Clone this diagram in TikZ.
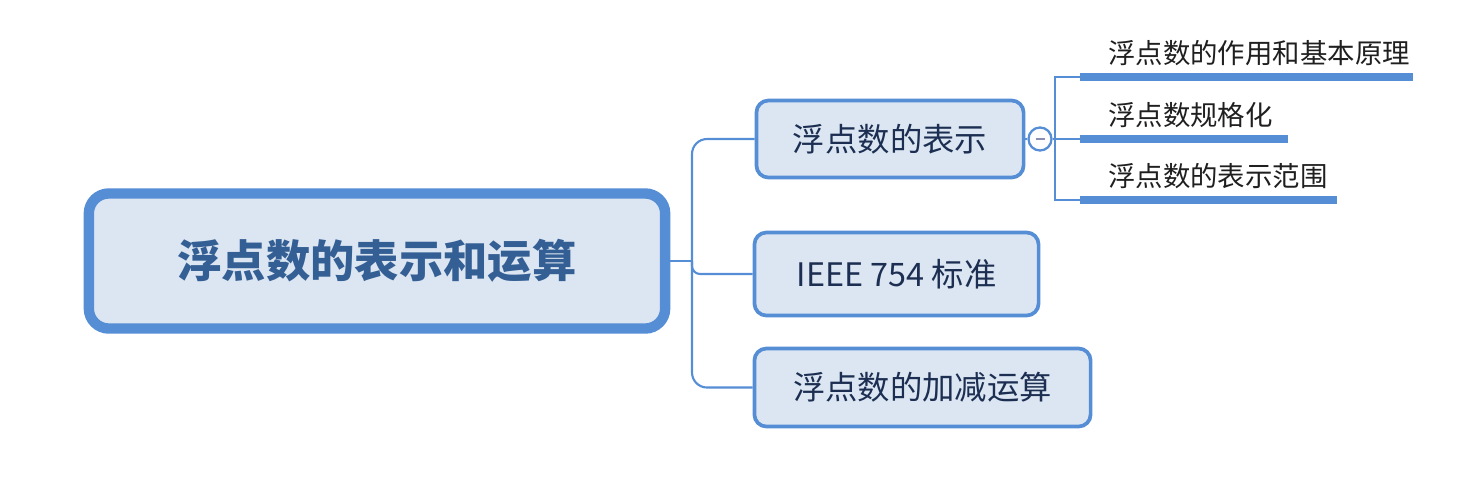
\documentclass[tikz,border=0pt]{standalone}
\usepackage{fontspec}
\setmainfont{Noto Sans CJK SC}
\definecolor{mapblue}{HTML}{558ED5}
\definecolor{mapfill}{HTML}{DCE6F2}
\definecolor{roottext}{HTML}{345F94}
\definecolor{topictext}{HTML}{1C2F52}
\definecolor{minusgray}{HTML}{8C90B0}
\begin{document}
\begin{tikzpicture}[x=0.01cm, y=-0.01cm]
				\tikzstyle{every node}=[align=center, inner sep=1pt]
				\tikzstyle{rootbox}=[draw=mapblue, fill=mapfill, line width=2.95pt, rounded corners=0.2cm, minimum width=5.76cm, minimum height=1.35cm, text=roottext, font=\fontsize{12.6}{15}\selectfont\bfseries]
				\tikzstyle{topicbox}=[draw=mapblue, fill=mapfill, line width=1.05pt, rounded corners=0.12cm, text=topictext, font=\fontsize{9.2}{11}\selectfont]
				\tikzstyle{subtopic}=[anchor=west, text=black!88, font=\fontsize{7.8}{9}\selectfont]
				\tikzstyle{collapse}=[circle, draw=mapblue, fill=white, line width=0.65pt, minimum size=0.23cm, inner sep=0pt, path picture={\draw[minusgray, line width=0.7pt] ([xshift=-0.045cm]path picture bounding box.center) -- ([xshift=0.045cm]path picture bounding box.center);}]
				\tikzstyle{branch}=[draw=mapblue, line width=0.6pt]
				\tikzstyle{subline}=[draw=mapblue, line width=2pt]
				\useasboundingbox (0, 0) rectangle (1474, 487);
				\node[rootbox] (R) at (377, 261) {浮点数的表示和运算};
				\node[topicbox, minimum width=2.67cm, minimum height=0.77cm] (T1) at (890, 139) {浮点数的表示};
				\node[topicbox, minimum width=2.84cm, minimum height=0.83cm] (T2) at (896.5, 274) {IEEE 754 标准};
				\node[topicbox, minimum width=3.36cm, minimum height=0.78cm] (T3) at (922.5, 387.5) {浮点数的加减运算};
				\node[collapse] (C) at (1040, 139) {};
				\node[subtopic] (S1) at (1104, 53) {浮点数的作用和基本原理};
				\node[subtopic] (S2) at (1104, 115) {浮点数规格化};
				\node[subtopic] (S3) at (1104, 176) {浮点数的表示范围};
				\coordinate (hub) at (692, 261);
				\coordinate (fork) at (1055, 139);
				\coordinate (U1a) at (1080, 77);
				\coordinate (U1b) at (1413, 77);
				\coordinate (U2a) at (1080, 139);
				\coordinate (U2b) at (1288, 139);
				\coordinate (U3a) at (1080, 200);
				\coordinate (U3b) at (1337, 200);

				\draw[branch]  (R.east) -- (hub);
				\draw[branch, rounded corners=0.15cm]  (hub) |- (T1.west);
				\draw[branch, rounded corners=0.08cm]  (hub) |- (T2.west);
				\draw[branch, rounded corners=0.15cm]  (hub) |- (T3.west);
				\draw[branch]  (T1.east) -- (C.west);
				\draw[branch]  (C.east) -- (fork);
				\draw[branch]  (fork) |- (U1a);
				\draw[branch]  (fork) -- (U2a);
				\draw[branch]  (fork) |- (U3a);
				\draw[subline]  (U1a) -- (U1b);
				\draw[subline]  (U2a) -- (U2b);
				\draw[subline]  (U3a) -- (U3b);
			\end{tikzpicture}
\end{document}
